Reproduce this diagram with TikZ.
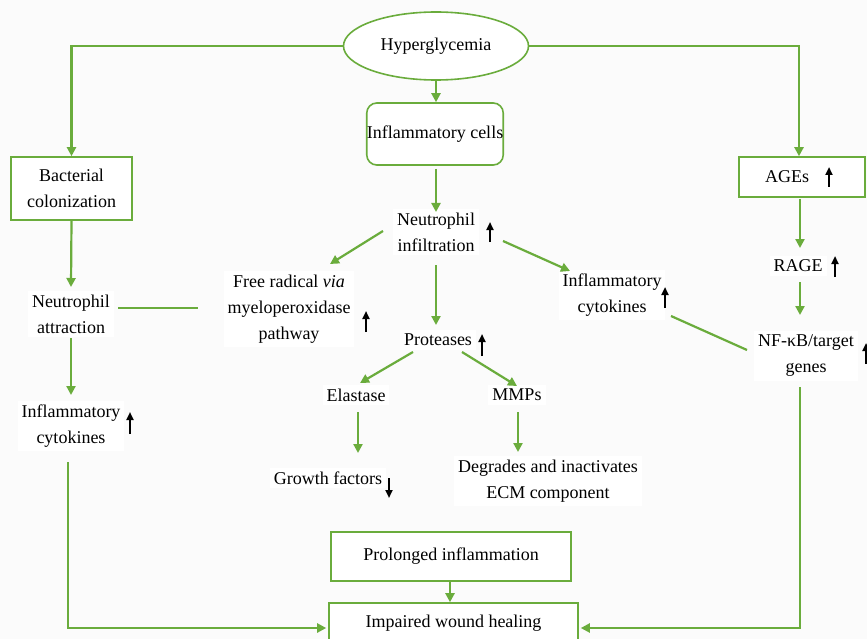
\documentclass[tikz,border=0pt]{standalone}
\usepackage{fontspec}
\setmainfont{Liberation Serif}
\usetikzlibrary{shapes.geometric,arrows.meta}

\definecolor{leaf}{RGB}{106,172,60}
\definecolor{paper}{RGB}{251,251,251}

\tikzset{
  box/.style={draw=leaf, line width=1.6pt, fill=white, inner sep=0pt, align=center},
  plain/.style={fill=white, inner sep=4pt, align=center},
  link/.style={draw=leaf, line width=2.2pt},
  flow/.style={link, -{Triangle[width=9pt,length=9pt]}},
  upind/.style={line width=2pt, -{Triangle[width=7pt,length=8pt]}}
}

\begin{document}
\begin{tikzpicture}[x=1pt, y=-1pt, font=\fontsize{18}{26}\selectfont]
    \fill[paper] (0,0) rectangle (867,639);
    \useasboundingbox (0,0) rectangle (867,639);

    % top of the chart
    \node[box, ellipse, minimum width=185, minimum height=68] (hyper) at (436,46) {Hyperglycemia};
    \node[box, rounded corners=10pt, minimum width=136, minimum height=62] (cells) at (435,134) {\raisebox{4pt}{Inflammatory cells}};
    \node[box, minimum width=121, minimum height=63] (bact) at (71.5,188.5) {Bacterial\\colonization};
    \node[box, minimum width=126, minimum height=40] (ages) at (802,177) {AGEs\hspace{30pt}};

    % middle
    \node[plain] (infil) at (436,232) {Neutrophil\\infiltration};
    \node[plain] (attr) at (71,314) {Neutrophil\\attraction};
    \node[plain] (freerad) at (289,309) {Free radical \textit{via}\\myeloperoxidase\\pathway};
    \node[plain] (cytmid) at (612,295) {Inflammatory\\cytokines};
    \node[plain] (rage) at (798,266) {RAGE};
    \node[plain] (nfkb) at (806,356) {NF-κB/target\\genes};
    \node[plain] (prot) at (438,340) {Proteases};
    \node[plain] (elast) at (356,395) {Elastase};
    \node[plain] (mmps) at (517,395) {MMPs};
    \node[plain] (cytleft) at (71,426) {Inflammatory\\cytokines};
    \node[plain] (growth) at (328,478) {Growth factors};
    \node[plain] (degr) at (548,481) {Degrades and inactivates\\ECM component};

    % bottom boxes
    \node[box, minimum width=240, minimum height=49] (prolong) at (451,556.5) {Prolonged inflammation};
    \node[box, minimum width=249, minimum height=44] (impair) at (453.5,625) {\raisebox{8pt}{Impaired wound healing}};

    % connectors
    \draw[flow] (hyper.west) -| (bact.north);
    \draw[flow] (hyper.east) -| ([xshift=-3pt]ages.north);
    \draw[flow] (hyper.south) -- (hyper.south |- cells.north);
    \draw[flow] ([shift={(1,3)}]cells.south) -- ([shift={(0,-20)}]infil.center);
    \draw[flow] (bact.south) -- ([shift={(0,-27)}]attr.center);
    \draw[link] ([shift={(47,-6)}]attr.center) -- ([shift={(-91,-1)}]freerad.center);
    \draw[flow] ([shift={(0,24)}]attr.center) -- ([shift={(0,-31)}]cytleft.center);
    \draw[flow] ([shift={(-3,36)}]cytleft.center) |- ([shift={(-2,3)}]impair.west);
    \draw[flow] ([shift={(-53,-1)}]infil.center) -- ([shift={(41,-45)}]freerad.center);
    \draw[flow] ([shift={(0,33)}]infil.center) -- ([shift={(-2,-15)}]prot.center);
    \draw[flow] ([shift={(67,9)}]infil.center) -- ([shift={(-42,-24)}]cytmid.center);
    \draw[link] ([shift={(59,21)}]cytmid.center) -- ([shift={(-59,-6)}]nfkb.center);
    \draw[flow] ([shift={(-2,1)}]ages.south) -- ([shift={(2,-18)}]rage.center);
    \draw[flow] ([shift={(2,16)}]rage.center) -- ([shift={(-6,-41)}]nfkb.center);
    \draw[flow] ([shift={(-6,31)}]nfkb.center) |- ([shift={(2,3)}]impair.east);
    \draw[flow] ([shift={(-25,12)}]prot.center) -- ([shift={(4,-12)}]elast.center);
    \draw[flow] ([shift={(24,12)}]prot.center) -- ([shift={(0,-9)}]mmps.center);
    \draw[flow] ([shift={(2,17)}]elast.center) -- ([shift={(30,-25)}]growth.center);
    \draw[flow] ([shift={(1,17)}]mmps.center) -- ([shift={(-30,-29)}]degr.center);
    \draw[flow] ([xshift=-1pt]prolong.south) -- ([xshift=-1pt]prolong.south |- impair.north);

    % up and down marks
    \draw[upind] ([shift={(54,10)}]infil.center) -- ([shift={(54,-10)}]infil.center);
    \draw[upind] ([shift={(77,23)}]freerad.center) -- ([shift={(77,2)}]freerad.center);
    \draw[upind] ([shift={(44,16)}]prot.center) -- ([shift={(44,-6)}]prot.center);
    \draw[upind] ([shift={(53,13)}]cytmid.center) -- ([shift={(53,-8)}]cytmid.center);
    \draw[upind] ([shift={(59,8)}]cytleft.center) -- ([shift={(59,-14)}]cytleft.center);
    \draw[upind] ([shift={(27,10)}]ages.center) -- ([shift={(27,-10)}]ages.center);
    \draw[upind] ([shift={(37,11)}]rage.center) -- ([shift={(37,-10)}]rage.center);
    \draw[upind] ([shift={(60,8)}]nfkb.center) -- ([shift={(60,-13)}]nfkb.center);
    \draw[upind] ([shift={(61,0)}]growth.center) -- ([shift={(61,20)}]growth.center);
\end{tikzpicture}
\end{document}
